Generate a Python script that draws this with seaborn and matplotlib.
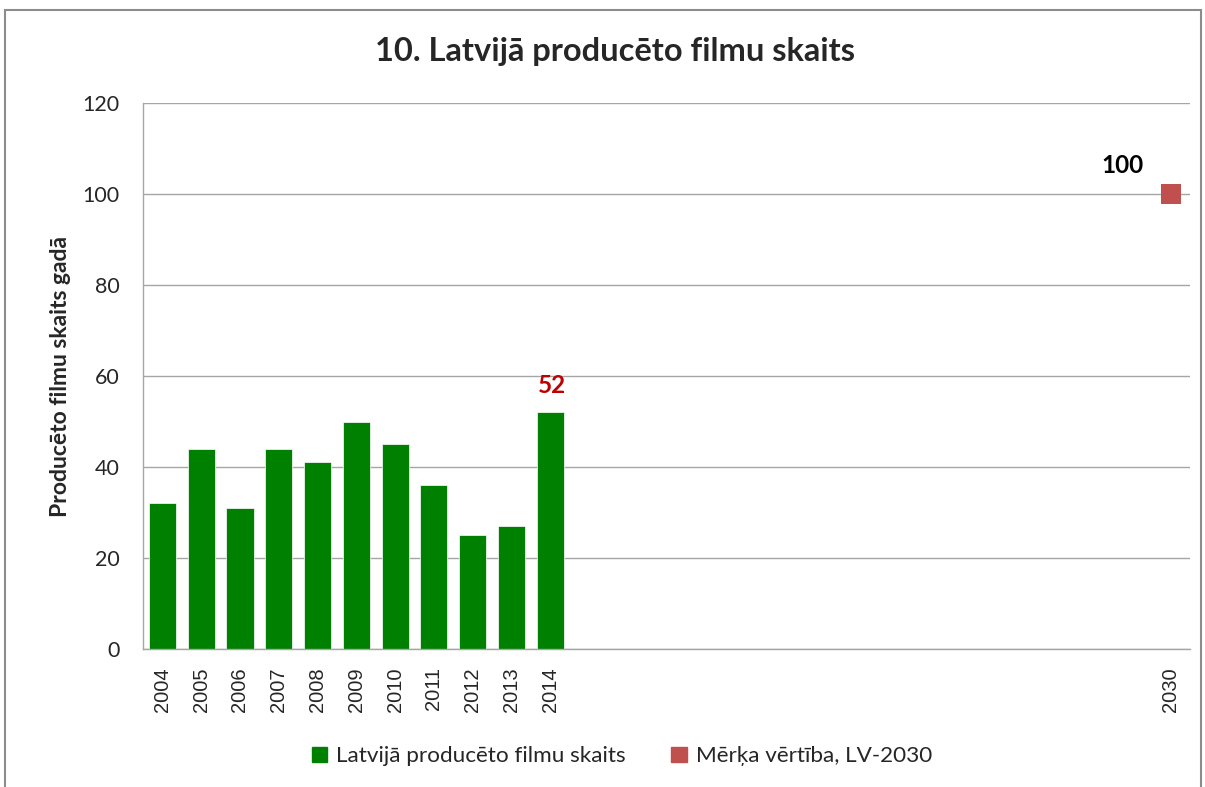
"""Latvian produced films per year, with 2030 target."""

import matplotlib.pyplot as plt
import matplotlib.patches as mpatches
import numpy as np
import pandas as pd
import seaborn as sns

# Data
years = list(range(2004, 2031))
film_years = [2004, 2005, 2006, 2007, 2008, 2009, 2010, 2011, 2012, 2013, 2014]
film_counts = [32, 44, 31, 44, 41, 50, 45, 36, 25, 27, 52]
target_year = 2030
target_value = 100
labelled_years = film_years + [target_year]

bar_color = "#008000"
target_color = "#C0504D"

df = pd.DataFrame({"year": [str(y) for y in years]})
df["films"] = df["year"].map(dict(zip([str(y) for y in film_years], film_counts)))

sns.set_style("white")
plt.rcParams["font.family"] = ["Lato", "DejaVu Sans"]

fig = plt.figure(figsize=(12.05, 7.87), dpi=100)
ax = fig.add_axes([0.1187, 0.1753, 0.8689, 0.6938])

# Outer chart frame
fig.patches.append(
    mpatches.Rectangle((5 / 1205, -0.01), 1196 / 1205, 1 - 10 / 787 + 0.01,
                       transform=fig.transFigure, fill=False,
                       edgecolor="#8c8c8c", linewidth=1.5)
)

sns.barplot(data=df, x="year", y="films", order=df["year"], color=bar_color,
            saturation=1, width=0.7, ax=ax, edgecolor="white", linewidth=0.5)

target_pos = years.index(target_year)
ax.scatter([target_pos], [target_value], marker="s", s=210, color=target_color,
           zorder=5, edgecolors="none")

# Data labels
last_pos = years.index(film_years[-1])
ax.text(last_pos + 0.05, film_counts[-1] + 3.5, str(film_counts[-1]),
        color="#C00000", fontsize=17.5, fontweight="bold", ha="center",
        va="bottom")
ax.text(target_pos - 1.25, target_value + 3.8, str(target_value), color="black",
        fontsize=17.5, fontweight="bold", ha="center", va="bottom")

# Axes styling
ax.set_xlim(-0.5, len(years) - 0.5)
ax.set_ylim(0, 120)
ax.set_yticks(np.arange(0, 121, 20))
ax.yaxis.grid(True, color="#a6a6a6", linewidth=1)
ax.set_axisbelow(True)
ax.tick_params(axis="y", labelsize=15.5, length=0, pad=17)
ax.set_xticks(range(len(years)))
ax.set_xticklabels([str(y) if y in labelled_years else "" for y in years],
                   rotation=90, fontsize=14.5, family="Liberation Sans")
ax.tick_params(axis="x", length=0, pad=13)
for side in ["top", "right"]:
    ax.spines[side].set_visible(False)
for side in ["left", "bottom"]:
    ax.spines[side].set_color("#a6a6a6")
    ax.spines[side].set_linewidth(1)

ax.set_xlabel("")
ax.set_ylabel("Producēto filmu skaits gadā", fontsize=16.5, fontweight="bold",
              labelpad=8)
fig.text(0.51, 1 - 52 / 787, "10. Latvijā producēto filmu skaits",
         fontsize=23.5, fontweight="bold", ha="center", va="center")

handles = [
    mpatches.Patch(color=bar_color, label="Latvijā producēto filmu skaits"),
    mpatches.Patch(color=target_color, label="Mērķa vērtība, LV-2030"),
]
fig.legend(handles=handles, loc="center", bbox_to_anchor=(0.516, 0.039), ncol=2,
           frameon=False, fontsize=16.2, handlelength=0.7, handleheight=0.7,
           handletextpad=0.4, columnspacing=2.0)

fig.savefig("out.png", dpi=100)
plt.close(fig)
